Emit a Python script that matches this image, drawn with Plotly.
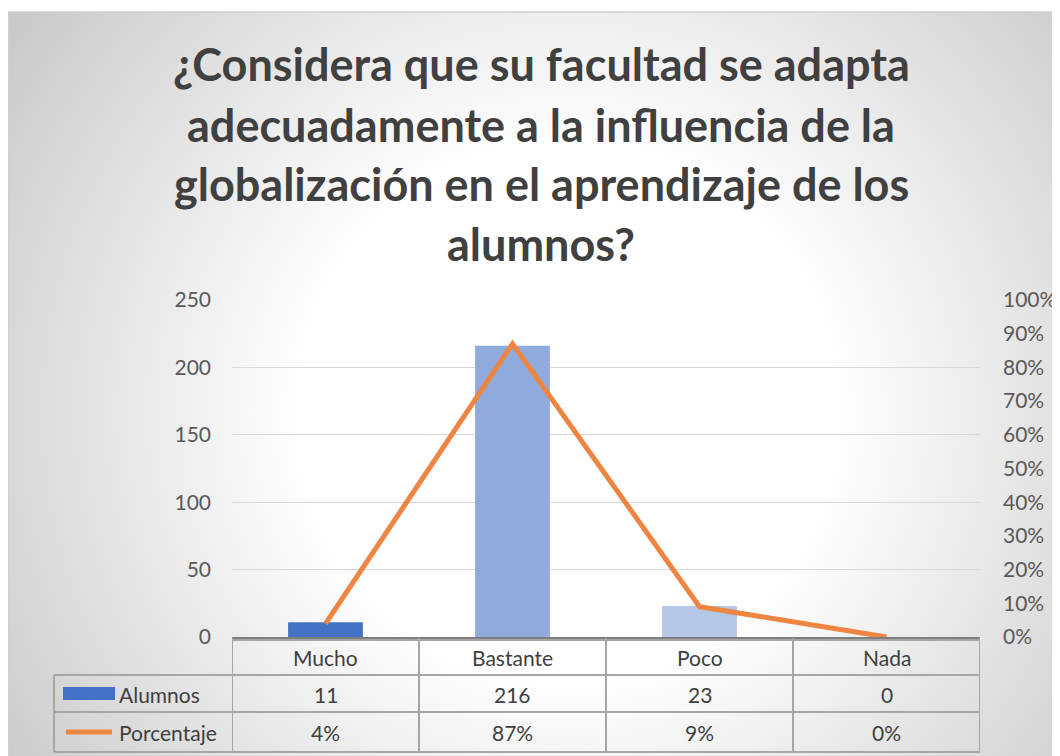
import base64
import plotly.graph_objects as go

# ---- data ----
categorias = ["Mucho", "Bastante", "Poco", "Nada"]
alumnos = [11, 216, 23, 0]
porcentaje = [0.04, 0.87, 0.09, 0.0]
colores_barras = ["#4472C4", "#8FAADC", "#B4C7E7", "#DAE3F3"]
titulo_lineas = [
    "¿Considera que su facultad se adapta",
    "adecuadamente a la influencia de la",
    "globalización en el aprendizaje de los",
    "alumnos?",
]

W, H = 1060, 756
OFF = 8  # page offset of the rendered figure
# plot area in screenshot pixels: x 232..980, y 300..637
PX0, PX1, PY0, PY1 = 232, 980, 300, 637
L = PX0 - OFF
T = PY0 - OFF
R = W - (PX1 - OFF)
B = H - (PY1 - OFF)
PW, PH = PX1 - PX0, PY1 - PY0


def px_x(p):
    return (p - PX0) / PW


def px_y(p):
    return (PY1 - p) / PH


FONT = "Lato"
TXT = "#404040"
TICK = "#595959"
GRID = "#D9D9D9"
TLINE = "#A6A6A6"
FS = 21

fig = go.Figure()
fig.add_trace(go.Bar(
    x=categorias, y=alumnos, name="Alumnos",
    marker=dict(color=colores_barras, line=dict(width=0)),
    width=0.4, yaxis="y", showlegend=False,
))
fig.add_trace(go.Scatter(
    x=categorias, y=porcentaje, name="Porcentaje", mode="lines",
    line=dict(color="#EE8540", width=5), yaxis="y2", showlegend=False,
))

# background radial gradient (chart area starts at 8,12 in the screenshot)
bx, by = 8, 12
bw, bh = 1080 - bx, 780 - by
svg = f'''<svg xmlns="http://www.w3.org/2000/svg" width="{bw}" height="{bh}" viewBox="0 0 {bw} {bh}">
<defs><radialGradient id="g" gradientUnits="userSpaceOnUse" cx="560" cy="400" r="700">
<stop offset="0" stop-color="#FFFFFF"/><stop offset="0.38" stop-color="#FFFFFF"/>
<stop offset="1" stop-color="#C6C6C6"/></radialGradient></defs>
<rect x="0" y="0" width="{bw}" height="{bh}" fill="url(#g)"/></svg>'''
src = "data:image/svg+xml;base64," + base64.b64encode(svg.encode()).decode()
fig.add_layout_image(dict(
    source=src, xref="paper", yref="paper", x=px_x(bx), y=px_y(by),
    sizex=bw / PW, sizey=bh / PH, xanchor="left", yanchor="top",
    sizing="stretch", layer="below",
))

shapes = []
# chart border
shapes.append(dict(type="rect", xref="paper", yref="paper", x0=px_x(bx), y0=px_y(by),
                   x1=px_x(1085), y1=px_y(790), line=dict(color="#D0D0D0", width=1.5)))
# table horizontal lines
for yy in [675, 712, 752]:
    shapes.append(dict(type="line", xref="paper", yref="paper", x0=px_x(54), x1=1,
                       y0=px_y(yy), y1=px_y(yy), line=dict(color=TLINE, width=2)))
shapes.append(dict(type="line", xref="paper", yref="paper", x0=0, x1=1,
                   y0=px_y(640), y1=px_y(640), line=dict(color=TLINE, width=2)))
# table vertical lines
for i in range(len(categorias) + 1):
    shapes.append(dict(type="line", xref="x", yref="paper", x0=i - 0.5, x1=i - 0.5,
                       y0=px_y(638), y1=px_y(752), line=dict(color=TLINE, width=2)))
shapes.append(dict(type="line", xref="paper", yref="paper", x0=px_x(54), x1=px_x(54),
                   y0=px_y(675), y1=px_y(752), line=dict(color=TLINE, width=2)))
# legend keys
shapes.append(dict(type="rect", xref="paper", yref="paper", x0=px_x(63), x1=px_x(115),
                   y0=px_y(700), y1=px_y(687), fillcolor="#4472C4", line=dict(width=0)))
shapes.append(dict(type="line", xref="paper", yref="paper", x0=px_x(66), x1=px_x(112),
                   y0=px_y(732), y1=px_y(732), line=dict(color="#EE8540", width=5)))

ann = []
tys = [64, 125, 184, 244]
for t, yy in zip(titulo_lineas, tys):
    ann.append(dict(text=f"<b>{t}</b>", xref="paper", yref="paper", x=px_x(541), y=px_y(yy),
                    xanchor="center", yanchor="middle", showarrow=False,
                    font=dict(family=FONT, size=45, color=TXT, weight=800)))
for c, a, p in zip(categorias, alumnos, porcentaje):
    ann.append(dict(text=c, xref="x", yref="paper", x=c, y=px_y(657), showarrow=False,
                    xanchor="center", yanchor="middle", font=dict(family=FONT, size=FS, color=TXT)))
    ann.append(dict(text=str(a), xref="x", yref="paper", x=c, y=px_y(694), showarrow=False,
                    xanchor="center", yanchor="middle", font=dict(family=FONT, size=FS, color=TXT)))
    ann.append(dict(text=f"{round(p * 100)}%", xref="x", yref="paper", x=c, y=px_y(732),
                    showarrow=False, xanchor="center", yanchor="middle",
                    font=dict(family=FONT, size=FS, color=TXT)))
ann.append(dict(text="Alumnos", xref="paper", yref="paper", x=px_x(117), y=px_y(694),
                showarrow=False, xanchor="left", yanchor="middle",
                font=dict(family=FONT, size=FS, color=TXT)))
ann.append(dict(text="Porcentaje", xref="paper", yref="paper", x=px_x(117), y=px_y(732),
                showarrow=False, xanchor="left", yanchor="middle",
                font=dict(family=FONT, size=FS, color=TXT)))

fig.update_layout(
    width=W, height=H, margin=dict(l=L, r=R, t=T, b=B),
    paper_bgcolor="white", plot_bgcolor="rgba(0,0,0,0)",
    font=dict(family=FONT, color=TICK),
    shapes=shapes, annotations=ann, bargap=0.6,
    xaxis=dict(type="category", categoryorder="array", categoryarray=categorias,
               range=[-0.5, 3.5], showticklabels=False, ticks="",
               showline=True, linecolor="#7F7F7F", linewidth=2, showgrid=False),
    yaxis=dict(range=[0, 250], dtick=50, showgrid=True, gridcolor=GRID, gridwidth=1.3,
               zeroline=False, showline=False, ticklabelstandoff=20,
               tickfont=dict(family=FONT, size=FS, color=TICK)),
    yaxis2=dict(range=[0, 1], dtick=0.1, tickformat=".0%", overlaying="y", side="right",
                showgrid=False, zeroline=False, showline=False, ticklabelstandoff=22,
                tickfont=dict(family=FONT, size=FS, color=TICK)),
)

fig.write_html("out.html")
